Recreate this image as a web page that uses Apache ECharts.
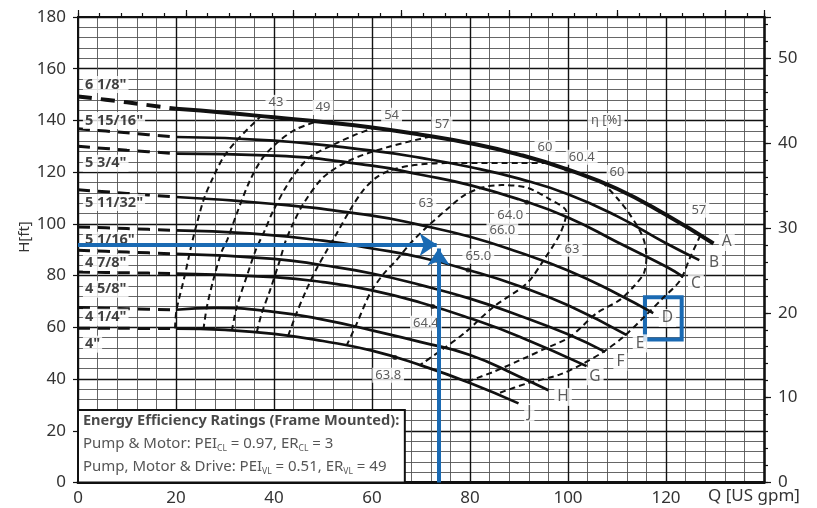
<!DOCTYPE html>
<html><head><meta charset="utf-8">
<script src="https://cdn.jsdelivr.net/npm/echarts@6/dist/echarts.min.js"></script>
<style>html,body{margin:0;padding:0;background:#fff}#c{width:817px;height:508px}</style>
</head><body><div id="c"></div>
<script>
const FONT = '"Noto Sans", "Open Sans", sans-serif';
const GPM_PER_M3H = 4.40287;
const FT_PER_M = 3.28084;

// Impeller curves: [Q gpm, H ft]; Q <= 20 drawn dashed
const curveA = [[0,149.3],[10,147],[20,144.5],[30,143],[40,141.2],[50,139.4],[60,137.3],[70,134.5],[80,131.2],[90,126.8],[100,121],[110,113.6],[120,103.5],[129.7,92.4]];
const curveB = [[0,136.8],[10,135.2],[20,133.6],[40,132.2],[60,128.3],[70,125.5],[80,122],[90,117.5],[100,111.5],[110,103],[120,92.5],[126.8,86]];
const curveC = [[0,130],[10,128.5],[20,127.2],[40,126.4],[60,122.5],[70,119],[80,115],[90,109.5],[100,102.5],[110,93],[120,83.5],[123.5,79.5]];
const curveD = [[0,113.2],[10,111.8],[20,110.4],[40,107.7],[60,103.2],[70,99.5],[80,95],[90,89],[100,82],[110,73],[117.4,65.5]];
const curveE = [[0,98.8],[10,98.2],[20,97.5],[35,96.3],[50,93.5],[60,90.5],[70,87],[80,82],[90,76],[100,68.5],[112,57]];
const curveF = [[0,89.8],[10,89.1],[20,88.4],[40,86.5],[50,84],[60,80.8],[70,76.3],[80,71.1],[90,64.6],[100,57.3],[107.6,50.5]];
const curveG = [[0,81.4],[10,81.1],[20,80.8],[40,79.4],[50,77.5],[60,74.3],[70,69.5],[80,63.5],[90,56.5],[103.8,45]];
const curveH = [[0,67.7],[10,67.2],[20,66.8],[28,67.5],[40,66],[50,63],[60,58.8],[70,54.3],[80,49.3],[90,41],[96,35.7]];
const curveJ = [[0,59.6],[10,59.6],[20,59.5],[30,59],[40,57.5],[50,54.7],[60,51],[70,45.3],[80,38.5],[89.9,30.6]];
const curves = [curveA, curveB, curveC, curveD, curveE, curveF, curveG, curveH, curveJ];

const curveLetters = ['A','B','C','D','E','F','G','H','J'];
const letterPos = [[132.4,93],[129.8,85.2],[126.1,77],[120.3,63.6],[114.7,53.8],[110.7,46.7],[105.5,41.1],[99,33.1],[92.1,27]];
const diameters = ['6 1/8"','5 15/16"','5 3/4"','5 11/32"','5 1/16"','4 7/8"','4 5/8"','4 1/4"','4"'];
const diameterLabelH = [153.9,140,123.4,108.3,93.7,85.1,74.7,63.9,53.5];

// Iso-efficiency lines
const eff43 = [[19.8,59.6],[20.1,66.6],[21.8,80.1],[23.3,93],[25.6,109.1],[27.6,118.1],[29.7,125.8],[32.4,132.3],[37.3,141.6]];
const eff49 = [[25.6,59.2],[26.3,67.9],[27.6,78.2],[29.3,89.2],[30.5,94],[32.4,104],[35.1,116.8],[37.8,125.8],[41.2,132.3],[44.5,136.6],[48.7,139.6]];
const eff54 = [[31.4,58.7],[32.4,67.9],[34.4,79.5],[36.3,90],[38,97],[39.9,105.3],[43.3,116.8],[47.3,125.8],[52.8,131.2],[56.5,134.4],[60.3,137.1]];
const eff57L = [[36.5,58.2],[37.5,65.4],[39.2,74.4],[41.2,86],[42.4,93.5],[44,100.5],[46,107.8],[50.1,118.1],[55.5,124.6],[63,129.6],[72,133.8]];
const eff57R = [[127,95.5],[124.8,86.5],[122.9,78.2],[119.2,71],[115.7,64.3],[111.3,56.3],[107.2,50.5],[103.1,46],[98.4,41.8],[91.6,38.3],[85.5,34.3]];
const eff60L = [[42.9,56.8],[44.5,65],[46.5,74],[48.5,82],[50.8,89.8],[52.8,96.3],[55.5,105.3],[58.2,113],[61,118.1],[63.7,120.7],[68,122.6],[75,123.5],[95.5,123.5]];
const eff60R = [[107,116.2],[110,110],[112,105.3],[114.5,98],[115.6,93],[116,87.2],[115.5,81],[113.5,76],[110.5,70.5],[105.8,65.4],[100.4,56.3],[95,51.5],[91.6,48.5],[84.8,42.8],[79.3,38.9]];
const eff63 = [[54.8,52.9],[56.9,61.5],[59.6,73.1],[62.3,80.5],[65,86],[67.8,92.4],[71.2,98.8],[75.2,105.5],[78.8,111],[82.7,114.2],[86.5,115],[91.6,114],[96.3,109.5],[99.7,104.6],[98.4,96.3],[95,85.9],[91.6,77],[84.8,67.9],[79,58],[74.6,51.8],[69.8,45.4]];
const effLines = [eff43, eff49, eff54, eff57L, eff57R, eff60L, eff60R, eff63];

const effLabelText = ['43','49','54','57','60','60.4','60','57','η [%]','63','64.0','66.0','65.0','63','64.4','63.8'];
const effLabelPos = [[40.4,147],[50,145],[64,142],[74.3,138.6],[95.3,129.6],[102.8,125.8],[110,119.9],[126.7,105.3],[107.8,140],[71,108],[88.2,103.3],[86.6,97.5],[81.7,87.5],[100.8,90.2],[71,61.6],[63.3,41.5]];

// Best-efficiency dots: curve index and Q
const bepCurve = [0, 2, 4, 6, 8];
const bepQ = [99.7, 91.6, 79.6, 72.4, 64.7];

// Duty point arrows (tip positions)
const arrowHTip = [73.2, 92];
const arrowVTip = [73.6, 90.5];

// Highlight box around D, efficiency box
const boxD = [[115.7,71.6],[123.2,55.3]];
const ratingBox = [[0,28],[66.7,0]];
const ratingLines = [
  '{b|Energy Efficiency Ratings (Frame Mounted):}',
  '{n|Pump & Motor: PEI}{s|CL}{n| = 0.97, ER}{s|CL}{n| = 3}',
  '{n|Pump, Motor & Drive: PEI}{s|VL}{n| = 0.51, ER}{s|VL}{n| = 49}'
];
const ratingLineH = [23.8, 14.9, 6.0];

function interp(pts, q) {
  for (let i = 0; i < pts.length - 1; i++) {
    const a = pts[i], b = pts[i+1];
    if (q >= a[0] && q <= b[0]) return a[1] + (b[1]-a[1]) * (q-a[0]) / (b[0]-a[0]);
  }
  return pts[pts.length-1][1];
}

const series = [];
curves.forEach((pts, i) => {
  series.push({type:'line', data: pts.filter(p => p[0] <= 20), showSymbol:false, smooth:0.3, silent:true, z:4,
    lineStyle:{color:'#111', width: i===0 ? 4 : 3, type: i===0 ? [14,9] : [12,8]}});
  series.push({type:'line', data: pts.filter(p => p[0] >= 20), showSymbol:false, smooth:0.5, silent:true, z:4,
    lineStyle:{color:'#111', width: i === 0 ? 4 : 2.7}});
});
effLines.forEach(pts => {
  series.push({type:'line', data: pts, showSymbol:false, smooth:0.3, silent:true, z:3,
    lineStyle:{color:'#111', width:2, type:[6,4]}});
});
// dots + boxes
series.push({type:'scatter', symbolSize:5, itemStyle:{color:'#111'}, z:6, silent:true,
  data: bepQ.map((q, i) => [q, interp(curves[bepCurve[i]], q)]),
  markArea:{silent:true, label:{show:false}, data:[
    [{coord: ratingBox[0], itemStyle:{color:'#fff', borderColor:'#111', borderWidth:2, opacity:1}}, {coord: ratingBox[1]}],
    [{coord: boxD[0], itemStyle:{color:'rgba(0,0,0,0)', borderColor:'#1a6ab3', borderWidth:4, opacity:1}}, {coord: boxD[1]}]
  ]}
});
// letters
series.push({type:'scatter', symbolSize:0, z:10, silent:true,
  data: curveLetters.map((t, i) => ({value: letterPos[i], name: t})),
  label:{show:true, position:'inside', formatter:'{b}', color:'#333', fontSize:15.5, fontFamily:FONT, backgroundColor:'#fff', padding:[1,3]}});
// diameters
series.push({type:'scatter', symbolSize:0, z:10, silent:true,
  data: diameters.map((t, i) => ({value: [1, diameterLabelH[i]], name: t})),
  label:{show:true, position:[0,0], align:'left', verticalAlign:'middle', formatter:'{b}', color:'#111', fontSize:14.5, fontWeight:'bold', fontFamily:FONT, backgroundColor:'#fff', padding:[1,2]}});
// efficiency labels
series.push({type:'scatter', symbolSize:0, z:10, silent:true,
  data: effLabelText.map((t, i) => ({value: effLabelPos[i], name: t})),
  label:{show:true, position:'inside', formatter:'{b}', color:'#333', fontSize:13, fontFamily:FONT, backgroundColor:'#fff', padding:[1,3]}});
// rating text
series.push({type:'scatter', symbolSize:0, z:11, silent:true,
  data: ratingLines.map((t, i) => ({value: [1, ratingLineH[i]], name: t})),
  label:{show:true, position:[0,0], align:'left', verticalAlign:'middle', formatter: p => p.name,
    rich:{
      b:{fontFamily:FONT, fontSize:14.6, fontWeight:'bold', color:'#1a1a1a', lineHeight:18},
      n:{fontFamily:FONT, fontSize:15, color:'#2a2a2a', lineHeight:18},
      s:{fontFamily:FONT, fontSize:8.5, color:'#2a2a2a', lineHeight:10, verticalAlign:'bottom'}
    }}});
// arrows
series.push({type:'lines', coordinateSystem:'cartesian2d', z:12, silent:true,
  symbol:['none','arrow'], symbolSize:[15,17],
  lineStyle:{color:'#1a6ab3', width:4, opacity:1, curveness:0},
  data:[{coords:[[0,arrowHTip[1]],arrowHTip]},{coords:[[arrowVTip[0],0],arrowVTip]}]});

const chart = echarts.init(document.getElementById('c'), null, {renderer:'canvas'});
chart.setOption({
  animation:false,
  backgroundColor:'#fff',
  grid:{left:78, right:53, top:17, bottom:25.5, containLabel:false},
  xAxis:[
    {type:'value', min:0, max:140, interval:20, position:'bottom',
      axisLine:{show:true, onZero:false, lineStyle:{color:'#111', width:3}},
      axisTick:{show:false},
      axisLabel:{color:'#333', fontSize:17, fontFamily:FONT, margin:7, showMaxLabel:false},
      splitLine:{show:true, lineStyle:{color:'#111', width:1.4}},
      minorTick:{show:false, splitNumber:5},
      minorSplitLine:{show:true, lineStyle:{color:'#555', width:0.9}}},
    {type:'value', min:0, max:140/GPM_PER_M3H, interval:1, position:'top',
      axisLine:{show:true, onZero:false, lineStyle:{color:'#111', width:2}},
      axisTick:{show:true, length:4, lineStyle:{color:'#111', width:1.2}},
      axisLabel:{show:false}, splitLine:{show:false}},
    {type:'value', min:0, max:140/GPM_PER_M3H, interval:5, position:'top',
      axisLine:{show:false, onZero:false},
      axisTick:{show:true, length:7, lineStyle:{color:'#111', width:1.2}},
      axisLabel:{show:false}, splitLine:{show:false}}
  ],
  yAxis:[
    {type:'value', min:0, max:180, interval:20, position:'left',
      axisLine:{show:true, onZero:false, lineStyle:{color:'#111', width:2}},
      axisTick:{show:true, length:5, lineStyle:{color:'#111', width:1.2}},
      axisLabel:{color:'#333', fontSize:17, fontFamily:FONT, margin:12},
      splitLine:{show:true, lineStyle:{color:'#111', width:1.4}},
      minorTick:{show:false, splitNumber:5},
      minorSplitLine:{show:true, lineStyle:{color:'#555', width:0.9}}},
    {type:'value', min:0, max:180/FT_PER_M, interval:2, position:'right',
      axisLine:{show:true, onZero:false, lineStyle:{color:'#111', width:2.5}},
      axisTick:{show:true, length:4, lineStyle:{color:'#111', width:1.2}},
      axisLabel:{show:false}, splitLine:{show:false}},
    {type:'value', min:0, max:180/FT_PER_M, interval:10, position:'right',
      axisLine:{show:false, onZero:false},
      axisTick:{show:true, length:7, lineStyle:{color:'#111', width:1.2}},
      axisLabel:{color:'#333', fontSize:17, fontFamily:FONT, margin:14,
        formatter: v => (Math.abs(v % 10) < 1e-6 ? String(v) : '')},
      splitLine:{show:false}}
  ],
  graphic:[
    {type:'text', left:708, top:488, style:{text:'Q [US gpm]', fill:'#333', font:'17px ' + FONT}},
    {type:'text', x:25, y:237, rotation:Math.PI/2, style:{text:'H[ft]', fill:'#333', font:'15px ' + FONT, align:'center', verticalAlign:'middle'}}
  ],
  series: series
});
</script>
</body></html>
